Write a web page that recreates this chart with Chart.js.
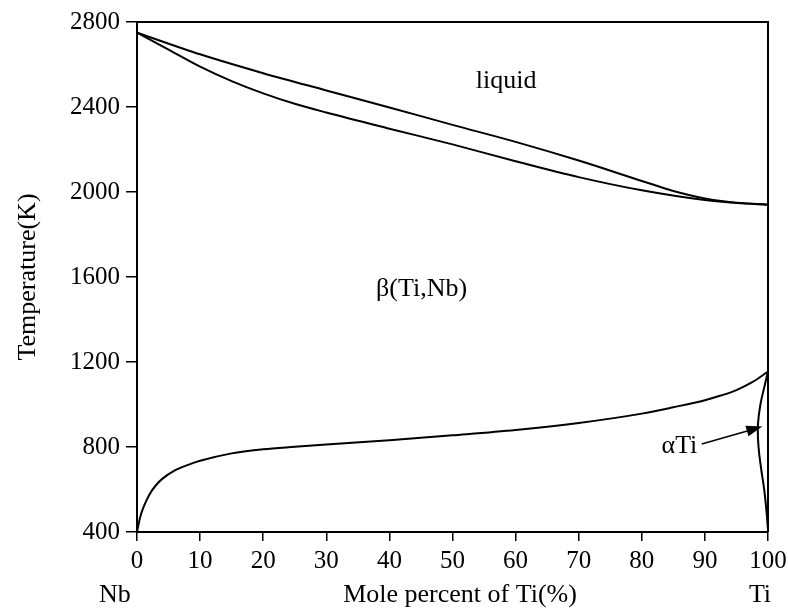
<!DOCTYPE html>
<html>
<head>
<meta charset="utf-8">
<script src="https://cdn.jsdelivr.net/npm/chart.js@4.4.1/dist/chart.umd.min.js"></script>
<style>
html, body { margin: 0; padding: 0; background: #fff; }
#wrap { width: 788px; height: 610px; }
</style>
</head>
<body>
<div id="wrap"><canvas id="chartFase" width="788" height="610"></canvas></div>
<script>
const liquidusX = [0, 10, 20, 30, 40, 50, 60, 70, 80, 85, 90, 95, 100];
const liquidusT = [2750, 2648, 2559, 2478, 2398, 2316, 2236, 2148, 2052, 2005, 1970, 1950, 1940];

const solidusX = [0, 5, 10, 15, 20, 25, 30, 40, 50, 60, 70, 80, 90, 95, 100];
const solidusT = [2750, 2670, 2590, 2522, 2464, 2415, 2374, 2298, 2224, 2145, 2070, 2008, 1962, 1948, 1940];

const transusX = [0, 0.5, 1, 2, 3, 4, 6, 8, 10, 15, 20, 25, 30, 40, 50, 60, 70, 80, 85, 90, 92.5, 95, 97.5, 100];
const transusT = [400, 470, 515, 578, 620, 650, 690, 715, 735, 770, 789, 801, 812, 832, 855, 880, 913, 957, 987, 1020, 1042, 1068, 1105, 1155];

const alfaX = [100, 99.4, 98.8, 98.4, 98.5, 98.9, 99.4, 99.75, 100];
const alfaT = [1155, 1080, 1000, 900, 800, 700, 600, 500, 410];

const ticksX = [0, 10, 20, 30, 40, 50, 60, 70, 80, 90, 100];
const ticksT = [400, 800, 1200, 1600, 2000, 2400, 2800];

// etiquetas de fases (posicion en unidades del grafico)
const etiquetas = [
    { texto: 'liquid', x: 58.5, t: 2489, align: 'center' },
    { texto: 'β(Ti,Nb)', x: 45.1, t: 1511, align: 'center' },
    { texto: 'αTi', x: 88.8, t: 772, align: 'right' }
];
const flechaDesde = [89.5, 814];
const flechaHasta = [99.1, 896];

const FUENTE = "'Liberation Serif', 'Times New Roman', serif";

function serie(xs, ts) {
    return xs.map((x, i) => ({ x: x, y: ts[i] }));
}

function linea(datos, modo, tension) {
    return {
        data: datos,
        showLine: true,
        borderColor: '#000',
        borderWidth: 2,
        pointRadius: 0,
        fill: false,
        tension: tension,
        cubicInterpolationMode: modo
    };
}

const decoracion = {
    id: 'decoracion',
    afterDraw(chart) {
        const ctx = chart.ctx;
        const area = chart.chartArea;
        const sx = chart.scales.x;
        const sy = chart.scales.y;
        ctx.save();

        // marco superior y derecho
        ctx.strokeStyle = '#000';
        ctx.lineWidth = 2;
        ctx.beginPath();
        ctx.moveTo(area.left, area.top);
        ctx.lineTo(area.right, area.top);
        ctx.lineTo(area.right, area.bottom);
        ctx.stroke();

        ctx.fillStyle = '#000';
        ctx.font = '26px ' + FUENTE;
        ctx.textBaseline = 'alphabetic';
        etiquetas.forEach(e => {
            ctx.textAlign = e.align;
            ctx.fillText(e.texto, sx.getPixelForValue(e.x), sy.getPixelForValue(e.t));
        });

        // flecha hacia la fase alfa
        const x1 = sx.getPixelForValue(flechaDesde[0]), y1 = sy.getPixelForValue(flechaDesde[1]);
        const x2 = sx.getPixelForValue(flechaHasta[0]), y2 = sy.getPixelForValue(flechaHasta[1]);
        const ang = Math.atan2(y2 - y1, x2 - x1);
        const c = Math.cos(ang), s = Math.sin(ang);
        ctx.lineWidth = 1.5;
        ctx.beginPath();
        ctx.moveTo(x1, y1);
        ctx.lineTo(x2 - 12 * c, y2 - 12 * s);
        ctx.stroke();
        ctx.beginPath();
        ctx.moveTo(x2, y2);
        ctx.lineTo(x2 - 16 * c + 5.5 * s, y2 - 16 * s - 5.5 * c);
        ctx.lineTo(x2 - 16 * c - 5.5 * s, y2 - 16 * s + 5.5 * c);
        ctx.closePath();
        ctx.fill();

        // titulos de ejes y extremos
        ctx.font = '26px ' + FUENTE;
        ctx.textAlign = 'center';
        ctx.fillText('Mole percent of Ti(%)', 460, 602);
        ctx.textAlign = 'left';
        ctx.fillText('Nb', sx.getPixelForValue(0) - 38, 602);
        ctx.textAlign = 'center';
        ctx.fillText('Ti', sx.getPixelForValue(100) - 8, 602);

        ctx.translate(28, 277);
        ctx.rotate(-Math.PI / 2);
        ctx.textAlign = 'center';
        ctx.textBaseline = 'middle';
        ctx.fillText('Temperature(K)', 0, 0);
        ctx.restore();
    }
};

const ctxFase = document.getElementById('chartFase');
new Chart(ctxFase, {
    type: 'scatter',
    data: {
        datasets: [
            linea(serie(liquidusX, liquidusT), 'monotone', 0.4),
            linea(serie(solidusX, solidusT), 'monotone', 0.4),
            linea(serie(transusX, transusT), 'monotone', 0.4),
            linea(serie(alfaX, alfaT), 'default', 0.4)
        ]
    },
    options: {
        responsive: false,
        animation: false,
        devicePixelRatio: 1,
        layout: { padding: { top: 22, right: 20, left: 0, bottom: 0 } },
        plugins: {
            legend: { display: false },
            tooltip: { enabled: false }
        },
        scales: {
            x: {
                type: 'linear',
                min: 0,
                max: 100,
                afterBuildTicks: s => { s.ticks = ticksX.map(v => ({ value: v })); },
                afterFit: s => { s.height = 78; s.paddingRight = 0; s.paddingLeft = 0; },
                ticks: { color: '#000', font: { family: FUENTE, size: 25 }, padding: 5, callback: v => String(v) },
                grid: { drawOnChartArea: false, drawTicks: true, tickLength: 9, color: '#000', lineWidth: 1.5 },
                border: { display: true, color: '#000', width: 2 }
            },
            y: {
                type: 'linear',
                min: 400,
                max: 2800,
                afterBuildTicks: s => { s.ticks = ticksT.map(v => ({ value: v })); },
                afterFit: s => { s.width = 137; s.paddingTop = 0; s.paddingBottom = 0; },
                ticks: { color: '#000', font: { family: FUENTE, size: 25 }, padding: 6, callback: v => String(v) },
                grid: { drawOnChartArea: false, drawTicks: true, tickLength: 11, color: '#000', lineWidth: 1.5 },
                border: { display: true, color: '#000', width: 2 }
            }
        }
    },
    plugins: [decoracion]
});
</script>
</body>
</html>
